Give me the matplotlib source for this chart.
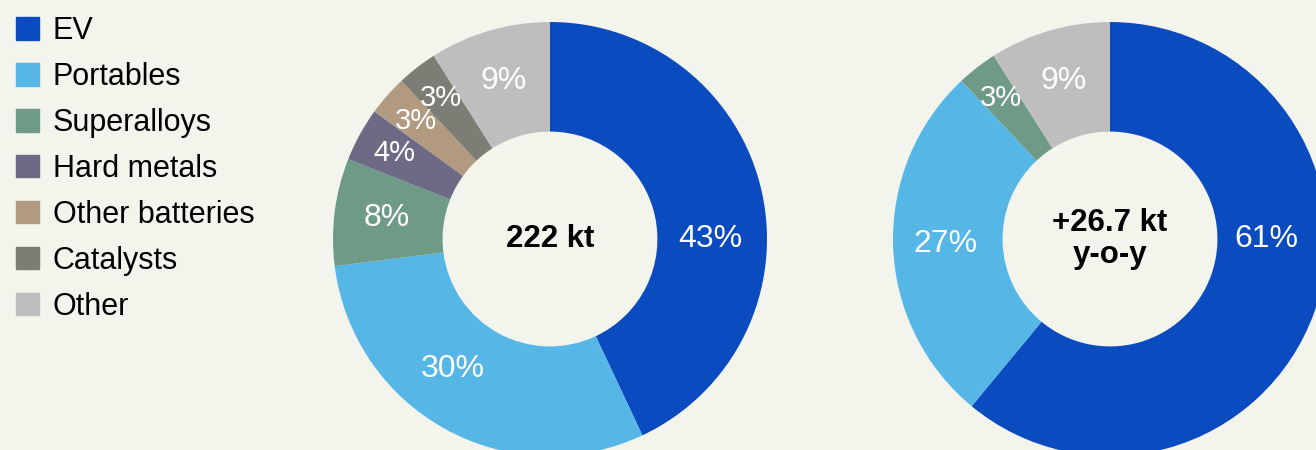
import matplotlib
matplotlib.use('Agg')

import matplotlib.pyplot as plt
import matplotlib.patches as mpatches

plt.rcParams['font.family'] = ['Liberation Sans', 'DejaVu Sans']

# ── Data ─────────────────────────────────────────────────────────────────────
CATEGORIES = ["EV", "Portables", "Superalloys", "Hard metals",
              "Other batteries", "Catalysts", "Other"]
COLORS = ["#0a4bbf", "#56b7e7", "#6f9a88", "#6c6a85",
          "#b19a80", "#7c7e75", "#bebebe"]

# demand split, % of total
TOTAL_SHARE = [43, 30, 8, 4, 3, 3, 9]
TOTAL_LABEL = "222 kt"

# y-o-y growth split, %
GROWTH_CATS = ["EV", "Portables", "Superalloys", "Other"]
GROWTH_SHARE = [61, 27, 3, 9]
GROWTH_LABEL = "+26.7 kt\ny-o-y"

BG = "#f3f4ec"
W, H = 1316, 450


def donut(cx, cy, r, values, colors, center_text):
    # place an axes so the donut has center (cx, cy) and radius r in pixels
    ax = fig.add_axes([(cx - r) / W, (H - cy - r) / H, 2 * r / W, 2 * r / H])
    ax.set_facecolor(BG)
    wedges, _, autotexts = ax.pie(
        values, colors=colors, startangle=90, counterclock=False,
        radius=1.0, autopct='%d%%', pctdistance=0.76,
        wedgeprops=dict(width=0.505, linewidth=0),
        textprops=dict(color="white", fontsize=23))
    # small slices sit a little further out, slightly smaller text
    for v, t in zip(values, autotexts):
        if v < 5:
            x, y = t.get_position()
            t.set_position((x * 1.08, y * 1.08))
            t.set_fontsize(21)
    ax.text(0, 0, center_text, ha='center', va='center',
            fontsize=22.5, fontweight='bold', color='black', linespacing=1.1)
    ax.set_xlim(-1, 1)
    ax.set_ylim(-1, 1)
    ax.set_aspect('equal')
    ax.axis('off')
    return ax, autotexts


fig = plt.figure(figsize=(W / 100, H / 100), dpi=100)
fig.patch.set_facecolor(BG)

ax1, auto1 = donut(550, 239, 217, TOTAL_SHARE, COLORS, TOTAL_LABEL)
# EV label level with the centre, Portables nudged as in the source
auto1[0].set_position((0.74, 0))
auto1[1].set_position((-0.45, -0.60))

growth_colors = [COLORS[CATEGORIES.index(c)] for c in GROWTH_CATS]
ax2, auto2 = donut(1110, 239, 217, GROWTH_SHARE, growth_colors, GROWTH_LABEL)
# EV label kept on the visible right side
auto2[0].set_position((0.72, 0))

# Legend
handles = [mpatches.Patch(color=c, label=l) for c, l in zip(COLORS, CATEGORIES)]
fig.legend(handles=handles, loc='upper left',
           bbox_to_anchor=(4 / W, 1 - 4 / H),
           frameon=False, fontsize=22,
           handlelength=0.75, handleheight=0.75,
           handletextpad=0.45, labelspacing=0.52, borderaxespad=0)

fig.savefig("out.png", dpi=100, facecolor=BG)
